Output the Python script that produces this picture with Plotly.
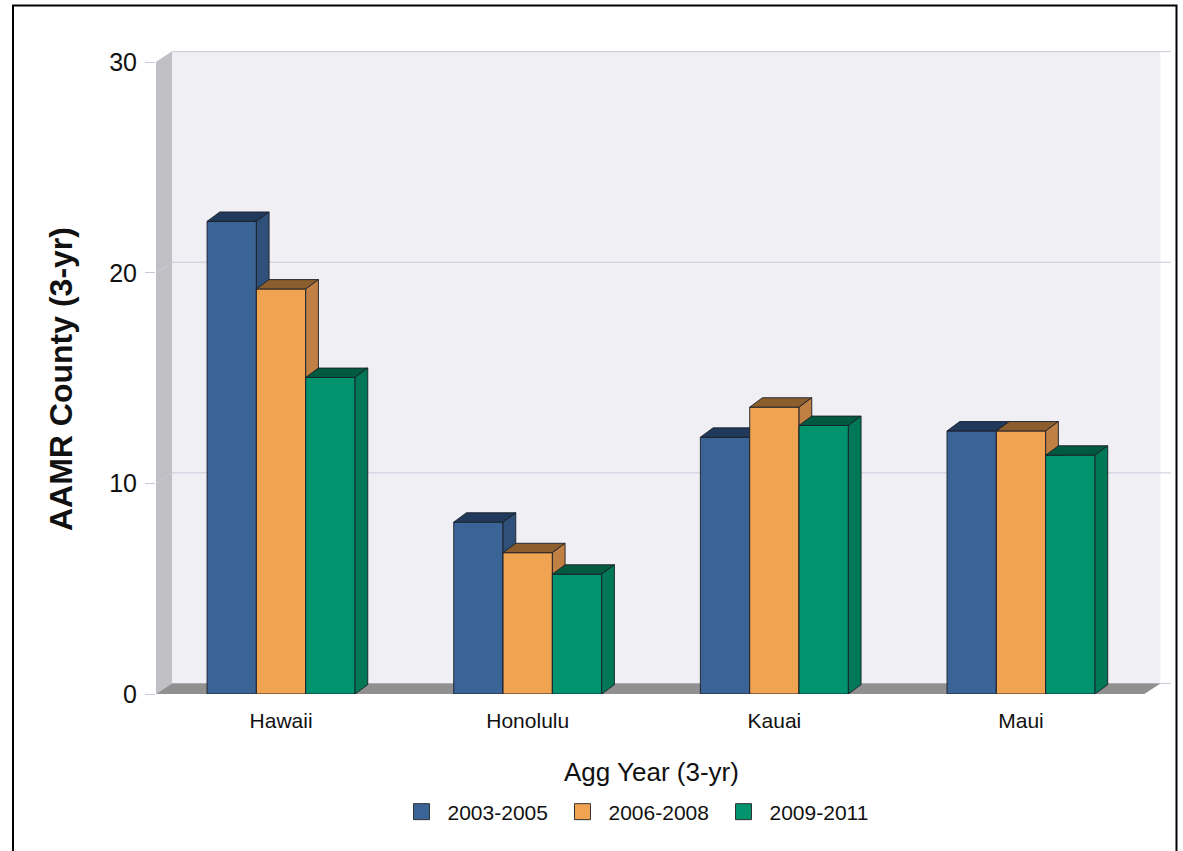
import plotly.graph_objects as go

# ---------------- data ----------------
categories = ["Hawaii", "Honolulu", "Kauai", "Maui"]
series_names = ["2003-2005", "2006-2008", "2009-2011"]
aamr_2003_2005 = [22.44, 8.16, 12.19, 12.49]
aamr_2006_2008 = [19.23, 6.71, 13.62, 12.49]
aamr_2009_2011 = [15.03, 5.69, 12.75, 11.34]
y_ticks = [0, 10, 20, 30]

series_values = [aamr_2003_2005, aamr_2006_2008, aamr_2009_2011]

# ---------------- style ----------------
front_colors = ["#3b6496", "#f0a452", "#00936e"]
top_colors = ["#213a5c", "#8c5e2e", "#005a40"]
side_colors = ["#2f5078", "#c08044", "#007858"]
edge = "rgba(25,30,40,0.9)"
FONT = "Liberation Sans, Arial, sans-serif"

BAR_W = 0.2
BAR_DX, BAR_DY = 0.0515, 0.446
WALL_DX, WALL_DY = 0.065, 0.5
X0 = -0.507
X_FRONT_END = 3.5
X_MAX = 3.608
Y_MAX = 30.53

W, H = 1183, 851
ML, MR, MT, MB = 156, 12, 51, 157
PW, PH = W - ML - MR, H - MT - MB


def px_x(p):
    return (p - ML) / PW


def px_y(p):
    return (H - MB - p) / PH


fig = go.Figure()


def poly(xs, ys, fill, line_color=None, line_width=0):
    fig.add_trace(go.Scatter(
        x=list(xs) + [xs[0]], y=list(ys) + [ys[0]],
        mode="lines", fill="toself", fillcolor=fill,
        line=dict(color=line_color or fill, width=line_width),
        hoverinfo="skip", showlegend=False))


# back wall
poly([X0 + WALL_DX, X_FRONT_END + WALL_DX, X_FRONT_END + WALL_DX, X0 + WALL_DX],
     [WALL_DY, WALL_DY, y_ticks[-1] + WALL_DY, y_ticks[-1] + WALL_DY], "#efeff4")
# left wall
poly([X0, X0 + WALL_DX, X0 + WALL_DX, X0],
     [0, WALL_DY, y_ticks[-1] + WALL_DY, y_ticks[-1]], "#c0c0c4")

# gridlines (back wall + left wall diagonal)
for v in y_ticks:
    fig.add_trace(go.Scatter(
        x=[X0, X0 + WALL_DX, X_MAX], y=[v, v + WALL_DY, v + WALL_DY],
        mode="lines", line=dict(color="#cacad9", width=1),
        hoverinfo="skip", showlegend=False))

# floor
poly([X0, X0 + WALL_DX, X_FRONT_END + WALL_DX, X_FRONT_END],
     [0, WALL_DY, WALL_DY, 0], "#909090")

# 3D bars (painter's order left to right)
for i, _cat in enumerate(categories):
    for j, vals in enumerate(series_values):
        h = vals[i]
        xl = i + (j - 1) * BAR_W - BAR_W / 2
        xr = xl + BAR_W
        poly([xl, xr, xr, xl], [0, 0, h, h], front_colors[j], edge, 1)
        poly([xl, xr, xr + BAR_DX, xl + BAR_DX], [h, h, h + BAR_DY, h + BAR_DY],
             top_colors[j], edge, 1)
        poly([xr, xr + BAR_DX, xr + BAR_DX, xr], [0, BAR_DY, h + BAR_DY, h],
             side_colors[j], edge, 1)

# legend entries
for j, name in enumerate(series_names):
    fig.add_trace(go.Scatter(
        x=[None], y=[None], mode="markers", name=name,
        marker=dict(symbol="square", size=16, color=front_colors[j],
                    line=dict(color="#333333", width=1))))

fig.update_layout(
    width=W, height=H,
    margin=dict(l=ML, r=MR, t=MT, b=MB),
    paper_bgcolor="white", plot_bgcolor="white",
    font=dict(family=FONT, color="#111111"),
    showlegend=True,
    legend=dict(orientation="h", x=px_x(637), xanchor="center",
                y=px_y(812), yanchor="middle",
                font=dict(size=21, family=FONT, color="#111111"),
                itemsizing="trace", itemwidth=42,
                entrywidth=104, entrywidthmode="pixels",
                bgcolor="rgba(0,0,0,0)"),
    xaxis=dict(range=[X0, X_MAX], tickvals=list(range(len(categories))),
               ticktext=categories, showgrid=False, zeroline=False,
               showline=False, ticks="outside", ticklen=8,
               tickcolor="rgba(0,0,0,0)",
               tickfont=dict(size=21, family=FONT, color="#111111")),
    yaxis=dict(range=[0, Y_MAX], tickvals=y_ticks, showgrid=False,
               zeroline=False, showline=False, ticks="outside", ticklen=10,
               tickcolor="#c8c8d8", ticklabelstandoff=3,
               tickfont=dict(size=25, family=FONT, color="#111111")),
    annotations=[
        dict(text="<b>AAMR County (3-yr)</b>", textangle=-90,
             xref="paper", yref="paper", x=px_x(61), y=px_y(379),
             xanchor="center", yanchor="middle", showarrow=False,
             font=dict(size=32, family=FONT, color="#111111")),
        dict(text="Agg Year (3-yr)", xref="paper", yref="paper",
             x=px_x(651), y=px_y(772), xanchor="center", yanchor="middle",
             showarrow=False, font=dict(size=26, family=FONT, color="#111111")),
    ],
    shapes=[dict(type="rect", xref="paper", yref="paper",
                 x0=px_x(13), x1=px_x(1176.5), y0=px_y(860), y1=px_y(5.5),
                 line=dict(color="black", width=2),
                 fillcolor="rgba(0,0,0,0)", layer="above")],
)

fig.write_html("out.html",
               config={"displayModeBar": False},
               post_script="document.body.style.margin='0';"
                           "document.body.style.overflow='hidden';")
